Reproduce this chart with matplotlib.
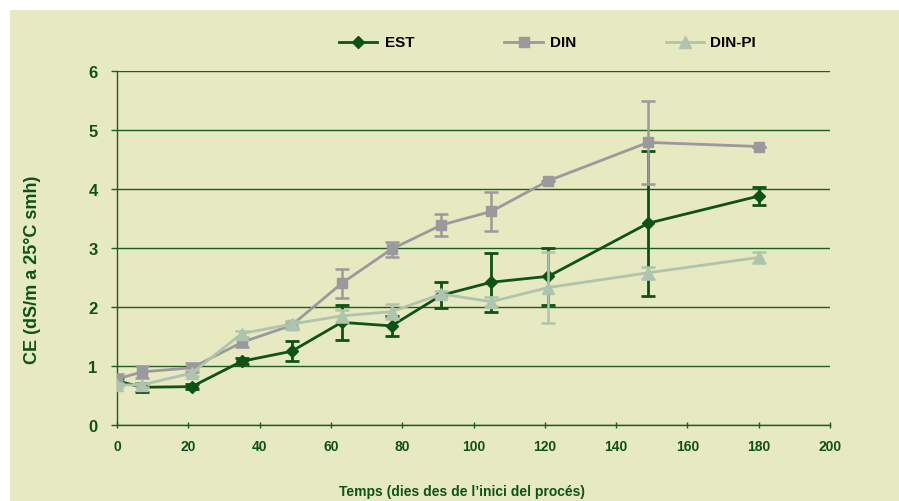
import matplotlib
matplotlib.use("Agg")
import matplotlib.pyplot as plt
from matplotlib.patches import Rectangle
from matplotlib.lines import Line2D

plt.rcParams['font.family'] = ['Liberation Sans', 'DejaVu Sans']

days = [0, 7, 21, 35, 49, 63, 77, 91, 105, 121, 149, 180]
est = [0.75, 0.64, 0.65, 1.08, 1.25, 1.74, 1.68, 2.20, 2.42, 2.52, 3.42, 3.88]
est_err = [0.05, 0.08, 0.04, 0.05, 0.17, 0.30, 0.17, 0.22, 0.50, 0.48, 1.23, 0.15]
din = [0.78, 0.90, 0.97, 1.40, 1.69, 2.40, 2.98, 3.39, 3.62, 4.14, 4.79, 4.72]
din_err = [0.08, 0.10, 0.08, 0.08, 0.06, 0.24, 0.13, 0.18, 0.33, 0.0, 0.70, 0.0]
dinpi = [0.68, 0.68, 0.88, 1.55, 1.71, 1.85, 1.92, 2.22, 2.09, 2.33, 2.58, 2.84]
dinpi_err = [0.04, 0.04, 0.05, 0.05, 0.05, 0.10, 0.13, 0.05, 0.08, 0.60, 0.10, 0.10]
series_names = ['EST', 'DIN', 'DIN-PI']

yticks = [0, 1, 2, 3, 4, 5, 6]
xticks = [0, 20, 40, 60, 80, 100, 120, 140, 160, 180, 200]

BG = '#e7e9c0'
GREEN = '#0f5216'
GRID = '#1d5e1d'
GREY = '#9a999e'
PALE = '#aec4ae'

W, H = 899, 502
fig = plt.figure(figsize=(W / 100, H / 100), dpi=100, facecolor='white')
fig.patches.append(Rectangle((10 / W, 0), 1 - 10 / W, (H - 11) / H,
                             transform=fig.transFigure, facecolor=BG,
                             edgecolor='none', zorder=-10))
ax = fig.add_axes([117 / W, (H - 426) / H, (830 - 117) / W, (426 - 72) / H])
ax.patch.set_alpha(0)

ax.set_xlim(0, 200)
ax.set_ylim(0, 6)
ax.set_yticks(yticks)
ax.set_xticks(xticks)
ax.yaxis.grid(True, color=GRID, linewidth=1.0)
ax.set_axisbelow(True)
for s in ['top', 'right']:
    ax.spines[s].set_visible(False)
for s in ['left', 'bottom']:
    ax.spines[s].set_color(GRID)
    ax.spines[s].set_linewidth(1.0)
ax.tick_params(axis='y', colors=GRID, length=4, width=1.0, labelsize=12, pad=10,
               labelcolor=GREEN)
ax.tick_params(axis='x', colors=GRID, length=4, width=1.0, direction='inout',
               labelsize=10, pad=8, labelcolor=GREEN)
for lab in ax.get_xticklabels() + ax.get_yticklabels():
    lab.set_fontweight('bold')

styles = [
    dict(color=GREEN, marker='D', ms=6.5, lw=2.0, ew=2.0),
    dict(color=GREY, marker='s', ms=7, lw=2.0, ew=1.8),
    dict(color=PALE, marker='^', ms=8, lw=2.0, ew=1.8),
]
data = [(est, est_err), (din, din_err), (dinpi, dinpi_err)]
for i, ((vals, errs), st, name) in enumerate(zip(data, styles, series_names)):
    ax.errorbar(days, vals, yerr=errs, color=st['color'], marker=st['marker'],
                markersize=st['ms'], linewidth=st['lw'], capsize=5,
                capthick=st['ew'], elinewidth=st['ew'], label=name, zorder=3 + i)

# manual legend (line + marker + text), positions in pixels
leg_pos = [(339, 377, 385), (504, 543, 550), (666, 704, 710)]
ly = 1 - 43 / H
for (x1, x2, xt), st, name in zip(leg_pos, styles, series_names):
    xm = (x1 + x2) / 2
    fig.add_artist(Line2D([x1 / W, xm / W, x2 / W], [ly, ly, ly],
                          transform=fig.transFigure, color=st['color'],
                          lw=st['lw'], marker=st['marker'], markersize=st['ms'],
                          markevery=[1]))
    fig.text(xt / W, ly, name, ha='left', va='center', color='black',
             fontsize=11, fontweight='bold')

fig.text(462 / W, 1 - 492 / H, "Temps (dies des de l\u2019inici del procés)",
         ha='center', va='center', color=GREEN, fontsize=10, fontweight='bold')
fig.text(33 / W, 1 - 270 / H, "CE (dS/m a 25°C smh)", rotation=90,
         ha='center', va='center', color=GREEN, fontsize=13, fontweight='bold')

fig.savefig('out.png', dpi=100, facecolor='white')
